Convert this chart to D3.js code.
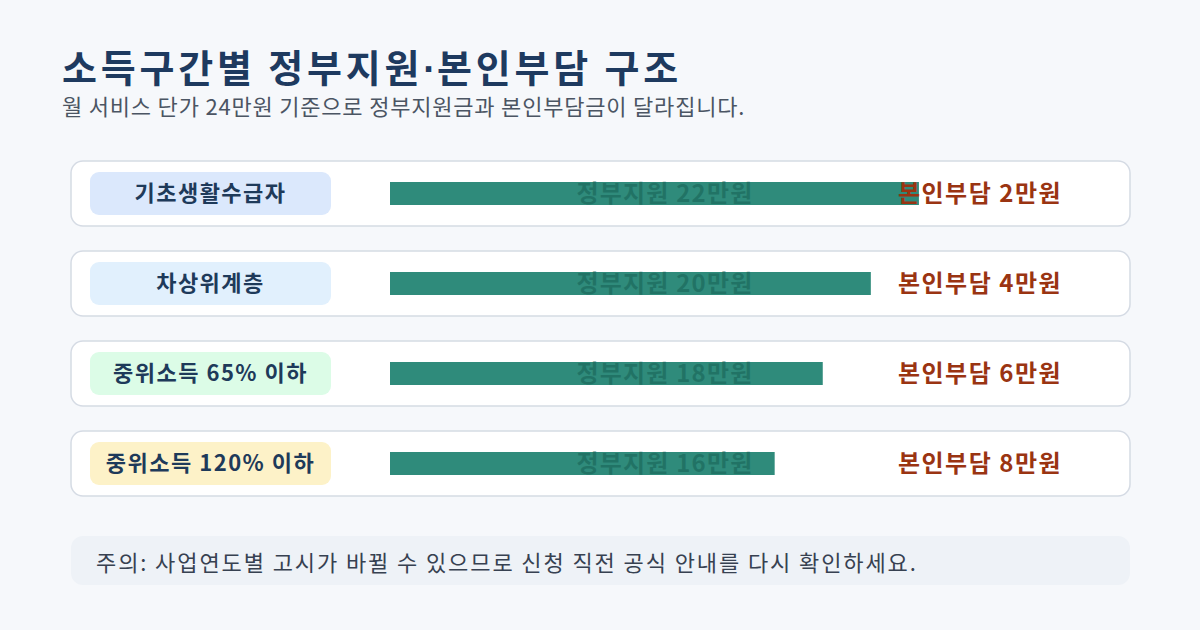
<!DOCTYPE html>
<html><head><meta charset="utf-8">
<script src="https://cdn.jsdelivr.net/npm/d3@7"></script>
<style>
html,body{margin:0;padding:0;background:#f6f8fb;}
svg{display:block;}
</style></head>
<body>
<script>
const titleA = "소득구간별 정부지원";
const titleDot = "·";
const titleB = "본인부담 구조";
const subtitle = "월 서비스 단가 24만원 기준으로 정부지원금과 본인부담금이 달라집니다.";
const note = "주의: 사업연도별 고시가 바뀔 수 있으므로 신청 직전 공식 안내를 다시 확인하세요.";
const categories = ["기초생활수급자", "차상위계층", "중위소득 65% 이하", "중위소득 120% 이하"];
const govSupport = [22, 20, 18, 16];
const selfPay = [2, 4, 6, 8];
const unitPrice = 24;
const pillColors = ["#dbe8fc", "#e1f0fd", "#dcfce7", "#fdf2c8"];

const W = 1200, H = 630;
const svg = d3.select("body").append("svg").attr("width", W).attr("height", H);
svg.append("rect").attr("width", W).attr("height", H).attr("fill", "#f6f8fb");

const FONT = "'Noto Sans CJK KR', 'Noto Sans', sans-serif";

const t = svg.append("text").attr("x", 62).attr("y", 82)
  .attr("font-family", FONT).attr("font-weight", 700).attr("font-size", 38)
  .attr("letter-spacing", 3.8).attr("fill", "#1e3a5f");
t.append("tspan").text(titleA);
t.append("tspan").attr("font-family", "'Liberation Sans', sans-serif").attr("letter-spacing", 1).text(titleDot);
t.append("tspan").text(titleB);

svg.append("text").attr("x", 62).attr("y", 115)
  .attr("font-family", FONT).attr("font-weight", 400).attr("font-size", 22)
  .attr("letter-spacing", 0.8).attr("fill", "#4b5563").text(subtitle);

const y = d3.scaleBand().domain(categories).range([161, 496]).paddingInner(25/90).paddingOuter(0);
const x = d3.scaleLinear().domain([0, unitPrice]).range([390, 967]);

const rows = svg.selectAll("g.row").data(categories).join("g").attr("class", "row")
  .attr("transform", d => `translate(0,${y(d)})`);
const bh = y.bandwidth();

rows.append("rect").attr("x", 71).attr("y", 0).attr("width", 1059).attr("height", bh)
  .attr("rx", 12).attr("fill", "#ffffff").attr("stroke", "#d5dbe4").attr("stroke-width", 1.5);
rows.append("rect").attr("x", 90).attr("y", bh/2 - 21.5).attr("width", 241).attr("height", 43)
  .attr("rx", 9).attr("fill", (d, i) => pillColors[i]);
rows.append("text").attr("x", 210.5).attr("y", bh/2).attr("dy", "0.36em")
  .attr("text-anchor", "middle").attr("font-family", FONT).attr("font-weight", 700)
  .attr("font-size", 22).attr("letter-spacing", 1.5).attr("fill", "#1e3a5a").text(d => d);

rows.append("rect").attr("x", x(0)).attr("y", bh/2 - 11.5)
  .attr("width", (d, i) => x(govSupport[i]) - x(0)).attr("height", 23).attr("fill", "#2f8b7b");
rows.append("text").attr("x", 665).attr("y", bh/2).attr("dy", "0.36em")
  .attr("text-anchor", "middle").attr("font-family", FONT).attr("font-weight", 700)
  .attr("font-size", 24).attr("letter-spacing", 1.2).attr("fill", "#1f6f62").attr("fill-opacity", 0.85)
  .text((d, i) => `정부지원 ${govSupport[i]}만원`);

rows.append("text").attr("x", 980).attr("y", bh/2).attr("dy", "0.36em")
  .attr("text-anchor", "middle").attr("font-family", FONT).attr("font-weight", 700)
  .attr("font-size", 24).attr("letter-spacing", 1.5).attr("fill", "#9a3412")
  .text((d, i) => `본인부담 ${selfPay[i]}만원`);

svg.append("rect").attr("x", 71).attr("y", 536).attr("width", 1059).attr("height", 49)
  .attr("rx", 12).attr("fill", "#eef2f7");
svg.append("text").attr("x", 96).attr("y", 563).attr("dy", "0.36em")
  .attr("font-family", FONT).attr("font-weight", 400).attr("font-size", 22)
  .attr("letter-spacing", 1.9).attr("fill", "#374151").text(note);
</script>
</body></html>
